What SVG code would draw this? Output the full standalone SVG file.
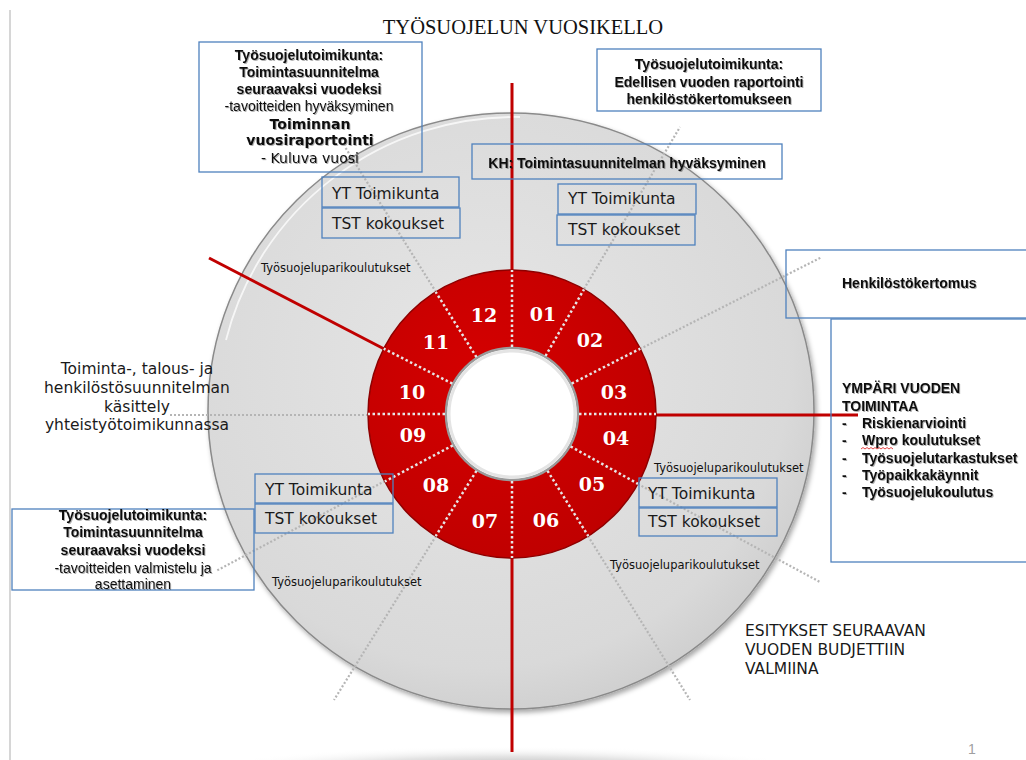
<svg xmlns="http://www.w3.org/2000/svg" width="1026" height="760" viewBox="0 0 1026 760">
<defs>
<style>
.box{fill:none;stroke:#4f81bd;stroke-width:1.3}
.ab{font-family:"Liberation Sans",Arial,sans-serif;font-weight:bold;font-size:14px;fill:#111}
.ar{font-family:"Liberation Sans",Arial,sans-serif;font-size:14px;fill:#111}
.vb{font-family:"DejaVu Sans",Verdana,sans-serif;font-weight:bold;font-size:14px;fill:#111}
.vr{font-family:"DejaVu Sans",Verdana,sans-serif;font-size:14px;fill:#111}
.yt{font-family:"DejaVu Sans",Verdana,sans-serif;font-size:15.5px;fill:#1a1a1a}
.sm{font-family:"DejaVu Sans",Verdana,sans-serif;font-size:11.5px;fill:#111}
.lt{font-family:"DejaVu Sans",Verdana,sans-serif;font-size:15.5px;fill:#1a1a1a}
.num{font-family:"DejaVu Serif","Liberation Serif",serif;font-weight:bold;font-size:19px;fill:#fff}
.red{stroke:#c00000;stroke-width:3;fill:none}
.gd{stroke:#b5b5b5;stroke-width:2.2;stroke-dasharray:2 2;fill:none}
.wd{stroke:#e6e6e6;stroke-width:2.5;stroke-dasharray:2.5 2.5;fill:none}
.c{text-anchor:middle}
</style>
<radialGradient id="diskG" cx="0.45" cy="0.42" r="0.6">
<stop offset="0" stop-color="#e6e6e6"/>
<stop offset="0.85" stop-color="#d9d9d9"/>
<stop offset="1" stop-color="#cfcfcf"/>
</radialGradient>
<radialGradient id="ringG" cx="0.4" cy="0.35" r="0.7">
<stop offset="0" stop-color="#d40000"/>
<stop offset="1" stop-color="#bf0000"/>
</radialGradient>
<radialGradient id="shadowG" cx="0.5" cy="0.5" r="0.5">
<stop offset="0" stop-color="#7a7a7a" stop-opacity="0.85"/>
<stop offset="0.6" stop-color="#bbbbbb" stop-opacity="0.4"/>
<stop offset="1" stop-color="#ffffff" stop-opacity="0"/>
</radialGradient>
<filter id="ds" x="-10%" y="-10%" width="120%" height="120%">
<feDropShadow dx="2" dy="3" stdDeviation="2.5" flood-color="#000" flood-opacity="0.35"/>
</filter>
<filter id="ts" x="-5%" y="-20%" width="110%" height="150%">
<feDropShadow dx="1" dy="1" stdDeviation="0.7" flood-color="#000" flood-opacity="0.3"/>
</filter>
</defs>
<rect width="1026" height="760" fill="#fff"/>
<line x1="10" y1="10" x2="10" y2="760" stroke="#c8c8c8" stroke-width="1.5"/>
<text x="523" y="34" class="c" font-family="Liberation Serif,Times New Roman,serif" font-size="20.5" fill="#111">TYÖSUOJELUN VUOSIKELLO</text>

<g id="disk">
<ellipse cx="510" cy="772" rx="310" ry="26" fill="url(#shadowG)"/>
<ellipse cx="511" cy="411" rx="303" ry="298" fill="url(#diskG)" stroke="#8a8a8a" stroke-width="1.5" filter="url(#ds)"/>
<path d="M226,340 A298,294 0 0 1 520,117" fill="none" stroke="#ffffff" stroke-width="1.8" opacity="0.75"/>
</g>

<g id="connectors">
<line class="gd" x1="584" y1="289" x2="680" y2="127"/>
<line class="gd" x1="640" y1="349" x2="822" y2="257"/>
<line class="gd" x1="638" y1="484" x2="820" y2="582"/>
<line class="gd" x1="588" y1="536" x2="690" y2="700"/>
<line class="gd" x1="436" y1="536" x2="334" y2="700"/>
<line class="gd" x1="385" y1="481" x2="216" y2="571"/>
<line class="gd" x1="368" y1="415" x2="170" y2="415"/>
<line class="gd" x1="436" y1="292" x2="345" y2="147"/>
<line class="red" x1="512" y1="83" x2="512" y2="752"/>
<line class="red" x1="512" y1="415" x2="858" y2="415"/>
<line class="red" x1="209" y1="258" x2="390" y2="352"/>
</g>

<g id="ring">
<path d="M368,414 A144,144 0 1 0 656,414 A144,144 0 1 0 368,414 Z M446,414 A66,66 0 1 1 578,414 A66,66 0 1 1 446,414 Z" fill="url(#ringG)" fill-rule="evenodd" stroke="#8e0000" stroke-width="1.5"/>
<circle cx="512" cy="414" r="66" fill="#fff" stroke="#9a9a9a" stroke-width="2.5"/>
<circle cx="512" cy="414" r="63" fill="none" stroke="#e4e4e4" stroke-width="3"/>
<line class="wd" x1="512" y1="347" x2="512" y2="270"/>
<line class="wd" x1="545.5" y1="356" x2="584" y2="289.3"/>
<line class="wd" x1="571.7" y1="383.6" x2="640.3" y2="348.6"/>
<line class="wd" x1="579" y1="414" x2="656" y2="414"/>
<line class="wd" x1="570.6" y1="446.5" x2="638" y2="483.8"/>
<line class="wd" x1="547.5" y1="470.8" x2="588.3" y2="536.1"/>
<line class="wd" x1="512" y1="481" x2="512" y2="558"/>
<line class="wd" x1="476.5" y1="470.8" x2="435.7" y2="536.1"/>
<line class="wd" x1="452.8" y1="445.4" x2="384.8" y2="481.5"/>
<line class="wd" x1="445" y1="414" x2="368" y2="414"/>
<line class="wd" x1="452.3" y1="383.6" x2="383.7" y2="348.6"/>
<line class="wd" x1="476.5" y1="357.2" x2="435.7" y2="291.9"/>
<text class="num c" x="484" y="322">12</text>
<text class="num c" x="543" y="321">01</text>
<text class="num c" x="590" y="347">02</text>
<text class="num c" x="614" y="399">03</text>
<text class="num c" x="616" y="445">04</text>
<text class="num c" x="592" y="491">05</text>
<text class="num c" x="546" y="527">06</text>
<text class="num c" x="485" y="528">07</text>
<text class="num c" x="436" y="492">08</text>
<text class="num c" x="413" y="442">09</text>
<text class="num c" x="412" y="399">10</text>
<text class="num c" x="436" y="349">11</text>
</g>

<g id="box-tl">
<rect class="box" x="199" y="42" width="223" height="130"/>
<g filter="url(#ts)">
<text class="ab c" x="309" y="60">Työsuojelutoimikunta:</text>
<text class="ab c" x="309" y="77">Toimintasuunnitelma</text>
<text class="ab c" x="309" y="94">seuraavaksi vuodeksi</text>
<text class="ar c" x="309" y="111">-tavoitteiden hyväksyminen</text>
<text class="vb c" x="310" y="129">Toiminnan</text>
<text class="vb c" x="310" y="145">vuosiraportointi</text>
<text class="vr c" x="310" y="163">- Kuluva vuosi</text>
</g>
</g>

<g id="box-tr">
<rect class="box" x="597" y="49" width="224" height="62"/>
<g filter="url(#ts)">
<text class="ab c" x="709" y="69">Työsuojelutoimikunta:</text>
<text class="ab c" x="709" y="87">Edellisen vuoden raportointi</text>
<text class="ab c" x="709" y="104">henkilöstökertomukseen</text>
</g>
</g>

<g id="box-kh">
<rect class="box" x="472" y="144" width="310" height="35"/>
<text class="ab c" x="627" y="168" filter="url(#ts)">KH: Toimintasuunnitelman hyväksyminen</text>
</g>

<g id="yt-tl">
<rect class="box" x="322" y="177" width="137" height="30"/>
<rect class="box" x="322" y="208" width="138" height="30"/>
<text class="yt" x="332" y="198.5">YT Toimikunta</text>
<text class="yt" x="332" y="228.5">TST kokoukset</text>
</g>

<g id="yt-tr">
<rect class="box" x="558" y="184" width="138" height="30"/>
<rect class="box" x="557" y="215" width="138" height="30"/>
<text class="yt" x="568" y="204">YT Toimikunta</text>
<text class="yt" x="568" y="234.5">TST kokoukset</text>
</g>

<g id="yt-bl">
<rect class="box" x="255" y="474" width="138" height="29"/>
<rect class="box" x="255" y="504" width="138" height="29"/>
<text class="yt" x="265" y="494.5">YT Toimikunta</text>
<text class="yt" x="265" y="523.5">TST kokoukset</text>
</g>

<g id="yt-br">
<rect class="box" x="639" y="478" width="138" height="29"/>
<rect class="box" x="639" y="508" width="138" height="28"/>
<text class="yt" x="648" y="498.5">YT Toimikunta</text>
<text class="yt" x="648" y="527">TST kokoukset</text>
</g>

<g id="labels-parikoulutus">
<text class="sm" x="261" y="272">Työsuojeluparikoulutukset</text>
<text class="sm" x="654" y="472">Työsuojeluparikoulutukset</text>
<text class="sm" x="610" y="569">Työsuojeluparikoulutukset</text>
<text class="sm" x="272" y="586">Työsuojeluparikoulutukset</text>
</g>

<g id="text-left">
<text class="lt c" x="137" y="373.5">Toiminta-, talous- ja</text>
<text class="lt c" x="137" y="392.5">henkilöstösuunnitelman</text>
<text class="lt c" x="137" y="411.5">käsittely</text>
<text class="lt c" x="137" y="429.5">yhteistyötoimikunnassa</text>
</g>

<g id="box-henkilosto">
<rect class="box" x="786" y="250" width="250" height="68"/>
<text class="ab" x="842" y="288" filter="url(#ts)">Henkilöstökertomus</text>
</g>

<g id="box-ympari">
<rect class="box" x="831" y="319" width="205" height="243"/>
<g filter="url(#ts)">
<text class="ab" x="842" y="393">YMPÄRI VUODEN</text>
<text class="ab" x="842" y="411">TOIMINTAA</text>
<text class="ab" x="842" y="428">-</text><text class="ab" x="862" y="428">Riskienarviointi</text>
<text class="ab" x="842" y="445">-</text><text class="ab" x="862" y="445">Wpro koulutukset</text>
<text class="ab" x="842" y="463">-</text><text class="ab" x="862" y="463">Työsuojelutarkastukset</text>
<text class="ab" x="842" y="480">-</text><text class="ab" x="862" y="480">Työpaikkakäynnit</text>
<text class="ab" x="842" y="497">-</text><text class="ab" x="862" y="497">Työsuojelukoulutus</text>
</g>
<path d="M861,449 l2,-1.5 l2,1.5 l2,-1.5 l2,1.5 l2,-1.5 l2,1.5 l2,-1.5 l2,1.5 l2,-1.5 l2,1.5 l2,-1.5 l2,1.5 l2,-1.5 l2,1.5 l2,-1.5 l2,1.5" fill="none" stroke="#e03030" stroke-width="0.9"/>
</g>

<g id="box-bl">
<rect class="box" x="12" y="509" width="242" height="81"/>
<g filter="url(#ts)">
<text class="ab c" x="133" y="520">Työsuojelutoimikunta:</text>
<text class="ab c" x="133" y="537">Toimintasuunnitelma</text>
<text class="ab c" x="133" y="555">seuraavaksi vuodeksi</text>
<text class="ar c" x="133" y="573">-tavoitteiden valmistelu ja</text>
<text class="ar c" x="133" y="589">asettaminen</text>
</g>
</g>

<g id="text-esitykset">
<text class="lt" x="745" y="636" font-size="16">ESITYKSET SEURAAVAN</text>
<text class="lt" x="745" y="655" font-size="16">VUODEN BUDJETTIIN</text>
<text class="lt" x="745" y="674" font-size="16">VALMIINA</text>
</g>

<text x="968" y="754" font-family="Liberation Sans,Arial,sans-serif" font-size="14" fill="#a0a0a0">1</text>
</svg>
